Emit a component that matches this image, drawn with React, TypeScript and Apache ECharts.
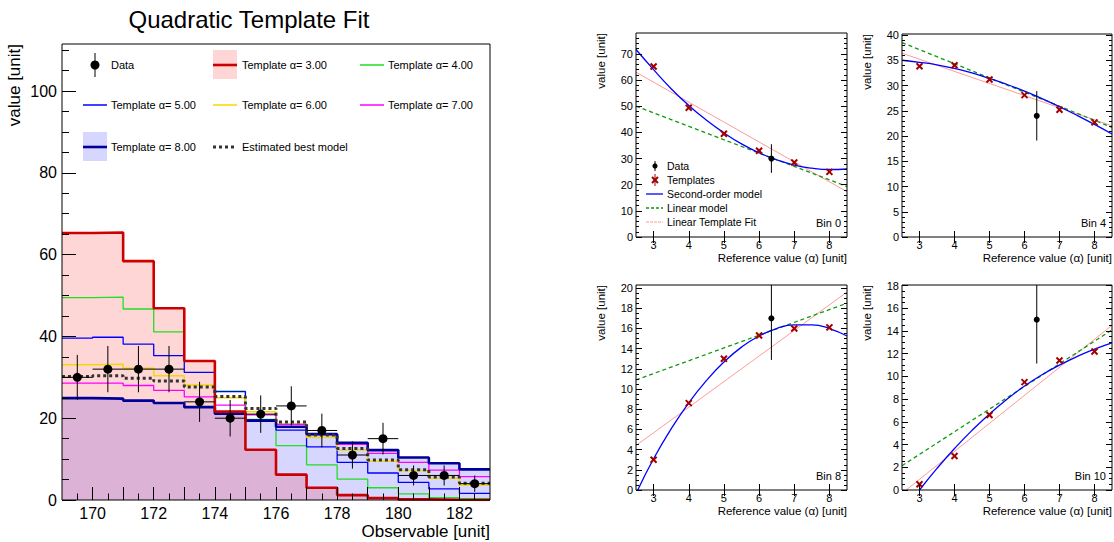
import React, { useEffect, useRef } from "react";
import * as echarts from "echarts";

const FONT = '"Liberation Sans", Arial, Helvetica, sans-serif';

// ---------------- Left panel: histogram templates ----------------
const binEdges = [169, 170, 171, 172, 173, 174, 175, 176, 177, 178, 179, 180, 181, 182, 183];
const binCenters = [169.5, 170.5, 171.5, 172.5, 173.5, 174.5, 175.5, 176.5, 177.5, 178.5, 179.5, 180.5, 181.5, 182.5];
const dataCounts = [30, 32, 32, 32, 24, 20, 21, 23, 17, 11, 15, 6, 6, 4];
const dataErrors = [5.48, 5.66, 5.66, 5.66, 4.9, 4.47, 4.58, 4.8, 4.12, 3.32, 3.87, 2.45, 2.45, 2.0];
const templateA3 = [65.3, 65.4, 58.4, 46.9, 34.0, 21.6, 12.3, 6.2, 3.0, 1.2, 0.5, 0.15, 0.05, 0.0];
const templateA4 = [49.5, 49.6, 46.7, 41.1, 34.0, 26.6, 19.7, 13.3, 8.6, 5.1, 3.0, 1.5, 0.6, 0.3];
const templateA5 = [39.6, 39.8, 38.1, 35.3, 31.2, 26.5, 19.5, 17.1, 13.0, 9.2, 6.6, 4.3, 2.7, 1.6];
const templateA6 = [33.1, 33.2, 32.2, 30.4, 28.1, 25.0, 21.6, 18.6, 15.3, 12.2, 9.5, 7.2, 5.3, 3.6];
const templateA7 = [28.6, 28.6, 28.0, 26.8, 25.2, 23.2, 20.8, 18.5, 16.0, 13.6, 11.4, 9.2, 7.3, 5.7];
const templateA8 = [24.9, 24.8, 24.3, 23.7, 22.7, 21.1, 19.4, 17.9, 16.1, 14.0, 12.2, 10.4, 9.0, 7.5];
const bestModel = [30.2, 30.4, 29.8, 29.1, 27.6, 25.3, 22.4, 19.1, 15.9, 12.6, 9.8, 7.4, 5.6, 4.1];

const leftXLabels = [170, 172, 174, 176, 178, 180, 182];
const leftXMajorTicks = [170, 171, 172, 173, 174, 175, 176, 177, 178, 179, 180, 181, 182];
const leftXMinorTicks = [169.5, 170.5, 171.5, 172.5, 173.5, 174.5, 175.5, 176.5, 177.5, 178.5, 179.5, 180.5, 181.5, 182.5];
const leftYLabels = [0, 20, 40, 60, 80, 100];
const leftYMinorTicks = [5, 10, 15, 25, 30, 35, 45, 50, 55, 65, 70, 75, 85, 90, 95, 105, 110];
const leftYMax = 111.5;

// ---------------- Right panels: per-bin parametrisation ----------------
const tplAlpha = [3, 4, 5, 6, 7, 8];
const bestAlpha = 6.35;
const alphaTicks = [3, 4, 5, 6, 7, 8];
const lineAlpha = [2.5, 8.5];
const quadAlpha = [2.5, 3, 3.5, 4, 4.5, 5, 5.5, 6, 6.5, 7, 7.5, 8, 8.5];

// Bin 0
const bin0Tpl = [65.2, 49.4, 39.5, 33.0, 28.5, 24.9];
const bin0Quad = [71.7, 64.0, 56.7, 50.3, 44.7, 39.8, 35.6, 32.2, 29.5, 27.5, 26.3, 25.8, 26.0];
const bin0Lin = [50.0, 19.3];
const bin0Fit = [63.0, 17.3];
const bin0Data = 30;
const bin0Err = 5.48;
const bin0YLabels = [0, 10, 20, 30, 40, 50, 60, 70];
const bin0YMinor = [2, 4, 6, 8, 12, 14, 16, 18, 22, 24, 26, 28, 32, 34, 36, 38, 42, 44, 46, 48, 52, 54, 56, 58, 62, 64, 66, 68, 72, 74, 76];

// Bin 4
const bin4Tpl = [33.8, 34.0, 31.2, 28.1, 25.2, 22.7];
const bin4Quad = [35.0, 34.6, 34.1, 33.4, 32.5, 31.4, 30.2, 28.9, 27.4, 25.8, 24.1, 22.3, 20.4];
const bin4Lin = [38.5, 21.7];
const bin4Fit = [36.4, 22.0];
const bin4Data = 24;
const bin4Err = 4.9;
const bin4YLabels = [0, 5, 10, 15, 20, 25, 30, 35, 40];
const bin4YMinor = [1, 2, 3, 4, 6, 7, 8, 9, 11, 12, 13, 14, 16, 17, 18, 19, 21, 22, 23, 24, 26, 27, 28, 29, 31, 32, 33, 34, 36, 37, 38, 39];

// Bin 8
const bin8Tpl = [3.0, 8.6, 13.0, 15.3, 16.0, 16.1];
const bin8QuadAlpha = [2.55, 3, 3.5, 4, 4.5, 5, 5.5, 6, 6.5, 7, 7.5, 8, 8.5];
const bin8Quad = [0, 3.1, 6.05, 8.63, 10.83, 12.67, 14.15, 15.25, 15.99, 16.35, 16.35, 15.99, 15.25];
const bin8Lin = [10.9, 18.5];
const bin8Fit = [4.4, 19.6];
const bin8Data = 17;
const bin8Err = 4.12;
const bin8YLabels = [0, 2, 4, 6, 8, 10, 12, 14, 16, 18, 20];
const bin8YMinor = [0.5, 1, 1.5, 2.5, 3, 3.5, 4.5, 5, 5.5, 6.5, 7, 7.5, 8.5, 9, 9.5, 10.5, 11, 11.5, 12.5, 13, 13.5, 14.5, 15, 15.5, 16.5, 17, 17.5, 18.5, 19, 19.5];

// Bin 10
const bin10Tpl = [0.5, 3.0, 6.6, 9.5, 11.4, 12.2];
const bin10QuadAlpha = [3, 3.5, 4, 4.5, 5, 5.5, 6, 6.5, 7, 7.5, 8, 8.5];
const bin10Quad = [0, 1.9, 3.65, 5.25, 6.7, 8.0, 9.15, 10.15, 11.0, 11.75, 12.4, 12.95];
const bin10Lin = [2.14, 14.1];
const bin10FitAlpha = [2.62, 8.5];
const bin10Fit = [0, 14.5];
const bin10Data = 15;
const bin10Err = 3.87;
const bin10YLabels = [0, 2, 4, 6, 8, 10, 12, 14, 16, 18];
const bin10YMinor = [0.5, 1, 1.5, 2.5, 3, 3.5, 4.5, 5, 5.5, 6.5, 7, 7.5, 8.5, 9, 9.5, 10.5, 11, 11.5, 12.5, 13, 13.5, 14.5, 15, 15.5, 16.5, 17, 17.5];

// ---------------- helpers ----------------
function valAxis(gridIndex: number, min: number, max: number, position: string, ticks: number[], tickLen: number, labels: number[] | null, fontSize: number, margin: number) {
  return {
    type: "value",
    gridIndex,
    min,
    max,
    position,
    z: 10,
    axisLine: { show: false },
    splitLine: { show: false },
    minorTick: { show: false },
    axisPointer: { show: false },
    axisTick: { show: true, inside: true, length: tickLen, customValues: ticks, lineStyle: { color: "#000", width: 1 } },
    axisLabel: labels
      ? { show: true, customValues: labels, fontSize, fontFamily: FONT, color: "#000", margin }
      : { show: false },
  };
}

const zip = (xs: number[], ys: number[]) => xs.map((x, i) => [x, ys[i]]);
const stepData = (vals: number[]) => [
  ...binEdges.slice(0, -1).map((x, i) => [x, vals[i]]),
  [binEdges[binEdges.length - 1], vals[vals.length - 1]],
];

function txt(text: string, x: number, y: number, size: number, align = "left", vAlign = "middle", rotation = 0) {
  return {
    type: "text",
    x,
    y,
    rotation,
    z: 120,
    silent: true,
    style: { text, fill: "#000", fontSize: size, fontFamily: FONT, align, verticalAlign: vAlign },
  };
}
function seg(x1: number, y1: number, x2: number, y2: number, stroke: string, lineWidth: number, lineDash?: number[]) {
  return {
    type: "line",
    z: 120,
    silent: true,
    shape: { x1, y1, x2, y2 },
    style: { stroke, lineWidth, lineDash },
  };
}

function buildOption() {
  const grid: any[] = [];
  const xAxis: any[] = [];
  const yAxis: any[] = [];
  const series: any[] = [];
  const graphic: any[] = [];

  const frame = (g: any) =>
    graphic.push({
      type: "rect",
      z: 110,
      silent: true,
      shape: { x: g.left, y: g.top, width: g.width, height: g.height },
      style: { fill: "none", stroke: "#000", lineWidth: 1 },
    });

  // ===== Left chart =====
  const gL = { left: 62, top: 44, width: 428, height: 456 };
  grid.push({ ...gL, show: false, containLabel: false, outerBoundsMode: "none" });
  xAxis.push(valAxis(0, 169, 183, "bottom", leftXMajorTicks, 13, leftXLabels, 16, 5));
  xAxis.push(valAxis(0, 169, 183, "bottom", leftXMinorTicks, 6.5, null, 0, 0));
  yAxis.push(valAxis(0, 0, leftYMax, "left", leftYLabels, 14, leftYLabels, 16, 5));
  yAxis.push(valAxis(0, 0, leftYMax, "left", leftYMinorTicks, 7, null, 0, 0));
  frame(gL);

  const fill = (vals: number[], color: string) => ({
    type: "line",
    xAxisIndex: 0,
    yAxisIndex: 0,
    data: stepData(vals),
    step: "end",
    symbol: "none",
    silent: true,
    lineStyle: { opacity: 0, width: 0 },
    areaStyle: { color, opacity: 1 },
    z: 1,
  });
  const hist = (vals: number[], color: string, width: number, type: any = "solid") => ({
    type: "line",
    xAxisIndex: 0,
    yAxisIndex: 0,
    data: stepData(vals),
    step: "end",
    symbol: "none",
    silent: true,
    lineStyle: { color, width, type },
    z: 3,
  });
  series.push(fill(templateA8, "rgba(0,0,255,0.16)"));
  series.push(fill(templateA3, "rgba(255,0,0,0.16)"));
  series.push(hist(templateA4, "#22dd22", 1.3));
  series.push(hist(templateA5, "#0000ff", 1.3));
  series.push(hist(templateA6, "#f5d800", 1.5));
  series.push(hist(templateA7, "#ff00ff", 1.3));
  series.push(hist(templateA8, "#000099", 2.6));
  series.push(hist(templateA3, "#cc0000", 2.6));
  series.push(hist(bestModel, "#333333", 3, [3, 3]));
  series.push({
    type: "custom",
    xAxisIndex: 0,
    yAxisIndex: 0,
    silent: true,
    z: 5,
    encode: { x: 0, y: 1 },
    data: binCenters.map((x, i) => [x, dataCounts[i], dataErrors[i]]),
    renderItem: (params: any, api: any) => {
      const x = api.value(0);
      const y = api.value(1);
      const e = api.value(2);
      const c = api.coord([x, y]);
      const l = api.coord([x - 0.5, y]);
      const r = api.coord([x + 0.5, y]);
      const t = api.coord([x, y + e]);
      const b = api.coord([x, y - e]);
      return {
        type: "group",
        children: [
          { type: "line", shape: { x1: l[0], y1: c[1], x2: r[0], y2: c[1] }, style: { stroke: "#000", lineWidth: 1 } },
          { type: "line", shape: { x1: c[0], y1: t[1], x2: c[0], y2: b[1] }, style: { stroke: "#000", lineWidth: 1 } },
          { type: "circle", shape: { cx: c[0], cy: c[1], r: 4.5 }, style: { fill: "#000" } },
        ],
      };
    },
  });

  // title, axis titles
  graphic.push(txt("Quadratic Template Fit", 249, 19, 24, "center", "middle"));
  graphic.push(txt("value [unit]", 14, 44, 17, "right", "middle", Math.PI / 2));
  graphic.push(txt("Observable [unit]", 490, 531, 17, "right", "middle"));

  // left legend
  const rowY = [65, 105, 147];
  const colSym = [83, 213, 360];
  const colTxt = [111, 242, 388];
  graphic.push(seg(95, rowY[0] - 12, 95, rowY[0] + 12, "#000", 1));
  graphic.push({ type: "circle", z: 120, silent: true, shape: { cx: 95, cy: rowY[0], r: 4.5 }, style: { fill: "#000" } });
  graphic.push(txt("Data", colTxt[0], rowY[0], 11));
  graphic.push({ type: "rect", z: 115, silent: true, shape: { x: colSym[1], y: rowY[0] - 15, width: 24, height: 29 }, style: { fill: "rgba(255,0,0,0.16)" } });
  graphic.push(seg(colSym[1], rowY[0], colSym[1] + 24, rowY[0], "#cc0000", 2.6));
  graphic.push(txt("Template α= 3.00", colTxt[1], rowY[0], 11));
  graphic.push(seg(colSym[2], rowY[0], colSym[2] + 24, rowY[0], "#22dd22", 1.5));
  graphic.push(txt("Template α= 4.00", colTxt[2], rowY[0], 11));
  graphic.push(seg(colSym[0], rowY[1], colSym[0] + 24, rowY[1], "#0000ff", 1.5));
  graphic.push(txt("Template α= 5.00", colTxt[0], rowY[1], 11));
  graphic.push(seg(colSym[1], rowY[1], colSym[1] + 24, rowY[1], "#f5d800", 1.5));
  graphic.push(txt("Template α= 6.00", colTxt[1], rowY[1], 11));
  graphic.push(seg(colSym[2], rowY[1], colSym[2] + 24, rowY[1], "#ff00ff", 1.5));
  graphic.push(txt("Template α= 7.00", colTxt[2], rowY[1], 11));
  graphic.push({ type: "rect", z: 115, silent: true, shape: { x: colSym[0], y: rowY[2] - 15, width: 24, height: 29 }, style: { fill: "rgba(0,0,255,0.16)" } });
  graphic.push(seg(colSym[0], rowY[2], colSym[0] + 24, rowY[2], "#000099", 2.6));
  graphic.push(txt("Template α= 8.00", colTxt[0], rowY[2], 11));
  graphic.push(seg(colSym[1], rowY[2], colSym[1] + 24, rowY[2], "#333333", 3, [3, 3]));
  graphic.push(txt("Estimated best model", colTxt[1], rowY[2], 11));

  // ===== Right panels =====
  const addPanel = (
    g: any,
    yMax: number,
    yLabels: number[],
    yMinor: number[],
    qA: number[],
    qV: number[],
    linV: number[],
    fA: number[],
    fV: number[],
    tpl: number[],
    dVal: number,
    dErr: number,
    binLabel: string
  ) => {
    const gi = grid.length;
    grid.push({ ...g, show: false, containLabel: false, outerBoundsMode: "none" });
    const xi = xAxis.length;
    xAxis.push(valAxis(gi, 2.5, 8.5, "bottom", alphaTicks, 6, alphaTicks, 11, 2));
    xAxis.push(valAxis(gi, 2.5, 8.5, "top", alphaTicks, 6, null, 0, 0));
    const yi = yAxis.length;
    yAxis.push(valAxis(gi, 0, yMax, "left", yLabels, 6, yLabels, 11, 3));
    yAxis.push(valAxis(gi, 0, yMax, "left", yMinor, 3, null, 0, 0));
    yAxis.push(valAxis(gi, 0, yMax, "right", yLabels, 6, null, 0, 0));
    yAxis.push(valAxis(gi, 0, yMax, "right", yMinor, 3, null, 0, 0));
    frame(g);

    series.push({
      type: "line", xAxisIndex: xi, yAxisIndex: yi, data: zip(fA, fV), symbol: "none", silent: true,
      lineStyle: { color: "#ff9a9a", width: 1 }, z: 2,
    });
    series.push({
      type: "line", xAxisIndex: xi, yAxisIndex: yi, data: zip(lineAlpha, linV), symbol: "none", silent: true,
      lineStyle: { color: "#119911", width: 1.3, type: [4, 3] }, z: 2,
    });
    series.push({
      type: "line", xAxisIndex: xi, yAxisIndex: yi, data: zip(qA, qV), symbol: "none", silent: true, smooth: true,
      lineStyle: { color: "#0000ff", width: 1.3 }, z: 3,
    });
    series.push({
      type: "custom", xAxisIndex: xi, yAxisIndex: yi, silent: true, z: 4, encode: { x: 0, y: 1 },
      data: zip(tplAlpha, tpl),
      renderItem: (params: any, api: any) => {
        const c = api.coord([api.value(0), api.value(1)]);
        const s = 3;
        return {
          type: "group",
          children: [
            { type: "line", shape: { x1: c[0] - s, y1: c[1] - s, x2: c[0] + s, y2: c[1] + s }, style: { stroke: "#a00000", lineWidth: 2 } },
            { type: "line", shape: { x1: c[0] - s, y1: c[1] + s, x2: c[0] + s, y2: c[1] - s }, style: { stroke: "#a00000", lineWidth: 2 } },
          ],
        };
      },
    });
    series.push({
      type: "custom", xAxisIndex: xi, yAxisIndex: yi, silent: true, z: 5, encode: { x: 0, y: 1 },
      data: [[bestAlpha, dVal, dErr]],
      renderItem: (params: any, api: any) => {
        const x = api.value(0);
        const y = api.value(1);
        const e = api.value(2);
        const cs = params.coordSys;
        const c = api.coord([x, y]);
        const t = api.coord([x, y + e]);
        const b = api.coord([x, y - e]);
        const top = Math.max(t[1], cs.y);
        const bot = Math.min(b[1], cs.y + cs.height);
        return {
          type: "group",
          children: [
            { type: "line", shape: { x1: c[0], y1: top, x2: c[0], y2: bot }, style: { stroke: "#000", lineWidth: 1 } },
            { type: "circle", shape: { cx: c[0], cy: c[1], r: 3 }, style: { fill: "#000" } },
          ],
        };
      },
    });

    graphic.push(txt("value [unit]", g.left - 35, g.top, 11.5, "right", "middle", Math.PI / 2));
    graphic.push(txt("Reference value (α) [unit]", g.left + g.width, g.top + g.height + 21, 11.5, "right", "middle"));
    graphic.push(txt(binLabel, g.left + g.width - 6, g.top + g.height - 14, 11, "right", "middle"));
  };

  addPanel({ left: 636, top: 33, width: 211, height: 204 }, 78, bin0YLabels, bin0YMinor, quadAlpha, bin0Quad, bin0Lin, lineAlpha, bin0Fit, bin0Tpl, bin0Data, bin0Err, "Bin 0");
  addPanel({ left: 902, top: 34, width: 210, height: 203 }, 40.2, bin4YLabels, bin4YMinor, quadAlpha, bin4Quad, bin4Lin, lineAlpha, bin4Fit, bin4Tpl, bin4Data, bin4Err, "Bin 4");
  addPanel({ left: 636, top: 285, width: 211, height: 205 }, 20.3, bin8YLabels, bin8YMinor, bin8QuadAlpha, bin8Quad, bin8Lin, lineAlpha, bin8Fit, bin8Tpl, bin8Data, bin8Err, "Bin 8");
  addPanel({ left: 902, top: 285, width: 210, height: 205 }, 18.05, bin10YLabels, bin10YMinor, bin10QuadAlpha, bin10Quad, bin10Lin, bin10FitAlpha, bin10Fit, bin10Tpl, bin10Data, bin10Err, "Bin 10");

  // Right legend (Bin 0 panel)
  const ly = [166, 180, 194, 208, 222];
  const lx0 = 646;
  const lx1 = 663;
  const lt = 667;
  graphic.push(seg(655, ly[0] - 5, 655, ly[0] + 5, "#000", 1));
  graphic.push({ type: "circle", z: 120, silent: true, shape: { cx: 655, cy: ly[0], r: 2.6 }, style: { fill: "#000" } });
  graphic.push(txt("Data", lt, ly[0], 10.5));
  graphic.push(seg(655, ly[1] - 6, 655, ly[1] + 6, "#a00000", 1));
  graphic.push(seg(652, ly[1] - 3, 658, ly[1] + 3, "#a00000", 2));
  graphic.push(seg(652, ly[1] + 3, 658, ly[1] - 3, "#a00000", 2));
  graphic.push(txt("Templates", lt, ly[1], 10.5));
  graphic.push(seg(lx0, ly[2], lx1, ly[2], "#0000ff", 1.3));
  graphic.push(txt("Second-order model", lt, ly[2], 10.5));
  graphic.push(seg(lx0, ly[3], lx1, ly[3], "#119911", 1.3, [3, 2]));
  graphic.push(txt("Linear model", lt, ly[3], 10.5));
  graphic.push(seg(lx0, ly[4], lx1, ly[4], "#ff9a9a", 1, [3, 1]));
  graphic.push(txt("Linear Template Fit", lt, ly[4], 10.5));

  return {
    animation: false,
    backgroundColor: "#fff",
    textStyle: { fontFamily: FONT },
    grid,
    xAxis,
    yAxis,
    series,
    graphic: { elements: graphic },
  };
}

export default function App() {
  const ref = useRef<HTMLDivElement>(null);
  useEffect(() => {
    if (!ref.current) return;
    const chart = echarts.init(ref.current, undefined, { renderer: "svg" });
    chart.setOption(buildOption() as any);
    return () => {
      chart.dispose();
    };
  }, []);
  return (
    <div
      ref={ref}
      style={{ position: "fixed", left: 0, top: 0, width: 1114, height: 542, background: "#fff" }}
    />
  );
}
